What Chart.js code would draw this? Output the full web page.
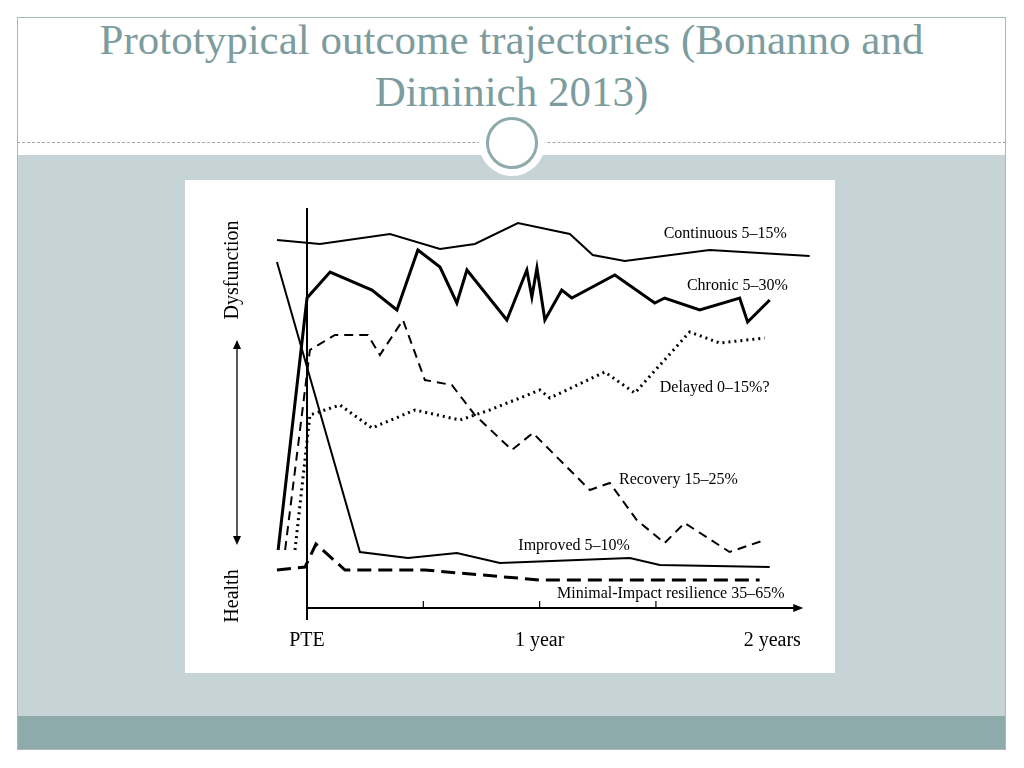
<!DOCTYPE html>
<html><head><meta charset="utf-8">
<script src="https://cdn.jsdelivr.net/npm/chart.js@4/dist/chart.umd.min.js"></script>
<style>
html,body{margin:0;padding:0;background:#fff;}
#slide{position:relative;width:1024px;height:768px;overflow:hidden;background:#fff;}
#frame{position:absolute;left:17px;top:17px;width:989px;height:733px;border:1px solid #a9b9bb;box-sizing:border-box;}
#band{position:absolute;left:17px;top:155px;width:989px;height:561px;background:#c6d3d7;}
#band2{position:absolute;left:17px;top:716px;width:989px;height:34px;background:#8eaaab;}
#sep{position:absolute;left:17px;top:142px;width:989px;border-top:1px dashed #9aa9ab;}
#circ{position:absolute;left:479px;top:110px;width:66px;height:66px;border-radius:50%;background:#fff;}
#circ2{position:absolute;left:486px;top:117px;width:46px;height:46px;border-radius:50%;border:3px solid #8eaaab;}
#title{position:absolute;left:17px;top:14px;width:989px;text-align:center;font-family:"Liberation Serif",serif;font-size:43px;line-height:52px;color:#7c9c9e;}
#panel{position:absolute;left:185px;top:180px;width:650px;height:493px;background:#fff;}
</style></head><body>
<div id="slide">
<div id="band"></div><div id="band2"></div><div id="frame"></div><div id="sep"></div>
<div id="title">Prototypical outcome trajectories (Bonanno and<br>Diminich 2013)</div>
<div id="circ"></div><div id="circ2"></div>
<div id="panel"><canvas id="c" width="650" height="493"></canvas></div>
</div>
<script>
// x in months after PTE, y in arbitrary dysfunction units (0 = health, 100 = dysfunction)
const continuousX=[-1.55,0.67,4.28,6.86,8.66,10.88,13.56,14.74,16.39,20.77,25.93];
const continuousY=[92,91,93.5,89.75,91,96.25,93.5,88.25,86.75,89.5,88];
const chronicX=[-1.49,0,1.19,3.35,4.64,5.72,6.86,7.73,8.25,10.31,11.34,11.6,11.86,12.27,13.14,13.66,15.88,17.94,18.45,20.26,22.32,22.73,23.87];
const chronicY=[14.5,77.5,84,79.5,74.5,89.5,85.25,76.25,84.5,72,84.5,77.75,85,72,79.5,77.5,83.25,76.25,77.5,74.5,77.5,71.5,77];
const delayedX=[-0.62,0.15,1.7,3.35,5.57,7.89,9.43,12.01,12.53,15.36,16.91,19.74,21.29,23.61];
const delayedY=[14.5,48.25,50.75,45,49.5,47,49.5,54.5,52.5,59,53.75,69,66.25,67.5];
const recoveryX=[-1.13,0.15,1.44,3.14,3.76,4.95,6.08,7.47,8.66,10.57,11.65,14.59,15.62,17.01,18.45,19.48,21.8,23.61];
const recoveryY=[14.5,64.5,68.25,68.25,63.25,72,57,55.75,48.25,39.5,43.75,29.5,31.25,22,16.25,21.25,14,17];
const improvedX=[-1.55,2.73,5.21,7.73,9.95,16.65,18.2,23.87];
const improvedY=[86.5,14,12.5,13.75,11.25,12.5,10.75,10.25];
const minimalX=[-1.55,-0.1,0.46,1.96,6.08,12.01,23.35];
const minimalY=[9.5,10.25,16,9.5,9.5,7,7];
const seriesLabels=["Continuous 5–15%","Chronic 5–30%","Delayed 0–15%?","Recovery 15–25%","Improved 5–10%","Minimal-Impact resilience 35–65%"];
const labelX=[18.4,19.6,18.2,16.1,10.9,12.9];
const labelY=[93.5,80.5,55,32,15.5,3.5];
const tickMonths=[0,12,24];
const tickLabels=["PTE","1 year","2 years"];
const minorTicks=[6,18];

const pts=(xs,ys)=>xs.map((x,i)=>({x:x,y:ys[i]}));
const ds=(xs,ys,w,dash)=>({data:pts(xs,ys),borderColor:'#000',borderWidth:w,borderDash:dash,pointRadius:0,tension:0,fill:false});

const deco={id:'deco',afterDraw(ch){
 const c=ch.ctx,x=ch.scales.x,y=ch.scales.y;
 c.save();c.strokeStyle='#000';c.fillStyle='#000';c.lineWidth=2;
 const x0=x.getPixelForValue(0),y0=y.getPixelForValue(0);
 c.beginPath();c.moveTo(x0,y.getPixelForValue(100));c.lineTo(x0,y0+12);c.stroke();
 const xe=x.getPixelForValue(25.6);
 c.beginPath();c.moveTo(x0,y0);c.lineTo(xe-8,y0);c.stroke();
 c.beginPath();c.moveTo(xe,y0);c.lineTo(xe-10,y0-4);c.lineTo(xe-10,y0+4);c.closePath();c.fill();
 c.lineWidth=1.2;
 minorTicks.concat([12]).forEach(m=>{const p=x.getPixelForValue(m);c.beginPath();c.moveTo(p,y0);c.lineTo(p,y0-7);c.stroke();});
 c.font='20px "Liberation Serif",serif';c.textAlign='center';c.textBaseline='middle';
 tickMonths.forEach((m,i)=>c.fillText(tickLabels[i],x.getPixelForValue(m),y0+33));
 c.font='16px "Liberation Serif",serif';c.textAlign='left';
 seriesLabels.forEach((t,i)=>c.fillText(t,x.getPixelForValue(labelX[i]),y.getPixelForValue(labelY[i])));
 c.font='20px "Liberation Serif",serif';
 c.save();c.translate(48,90);c.rotate(-Math.PI/2);c.textAlign='center';c.fillText('Dysfunction',0,0);c.restore();
 c.save();c.translate(48,416);c.rotate(-Math.PI/2);c.textAlign='center';c.fillText('Health',0,0);c.restore();
 const ax=52,a1=160,a2=365;c.lineWidth=1.3;
 c.beginPath();c.moveTo(ax,a1+6);c.lineTo(ax,a2-6);c.stroke();
 c.beginPath();c.moveTo(ax,a1);c.lineTo(ax-4,a1+9);c.lineTo(ax+4,a1+9);c.closePath();c.fill();
 c.beginPath();c.moveTo(ax,a2);c.lineTo(ax-4,a2-9);c.lineTo(ax+4,a2-9);c.closePath();c.fill();
 c.restore();
}};

new Chart(document.getElementById('c'),{type:'line',
 data:{datasets:[ds(continuousX,continuousY,2,[]),ds(chronicX,chronicY,3,[]),ds(delayedX,delayedY,3,[2,4]),
  ds(recoveryX,recoveryY,2,[9,6]),ds(improvedX,improvedY,2,[]),ds(minimalX,minimalY,3,[14,7])]},
 options:{responsive:false,animation:false,events:[],
  layout:{padding:{left:91,right:24,top:28,bottom:65}},
  plugins:{legend:{display:false},tooltip:{enabled:false}},
  scales:{x:{type:'linear',min:-1.6,max:26,display:false},y:{min:0,max:100,display:false}}},
 plugins:[deco]});
</script></body></html>
